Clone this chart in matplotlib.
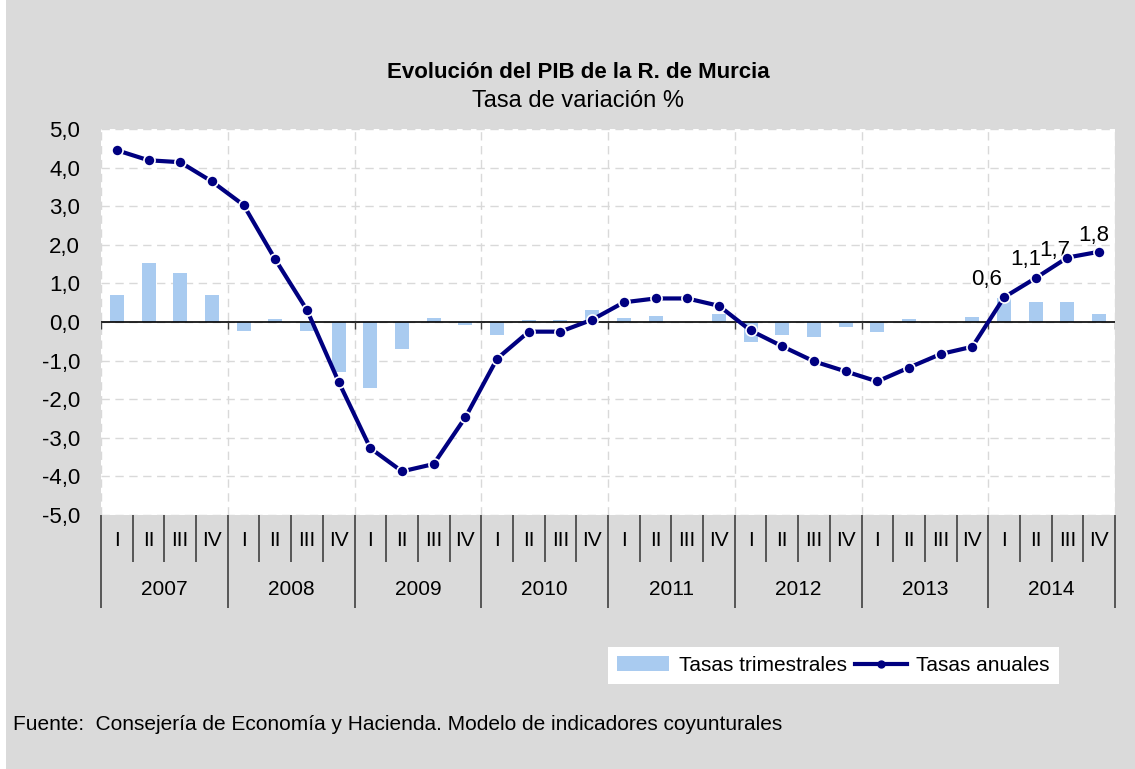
import numpy as np
import matplotlib.pyplot as plt
from matplotlib.patches import Rectangle, Patch
from matplotlib.lines import Line2D

plt.rcParams['font.family'] = ['Liberation Sans', 'DejaVu Sans']

years = ['2007', '2008', '2009', '2010', '2011', '2012', '2013', '2014']
quarters = ['I', 'II', 'III', 'IV']

tasas_trimestrales = [0.71, 1.52, 1.26, 0.71,
                      -0.24, 0.07, -0.24, -1.30,
                      -1.71, -0.70, 0.11, -0.09,
                      -0.34, 0.06, 0.06, 0.30,
                      0.10, 0.16, 0.0, 0.21,
                      -0.53, -0.33, -0.38, -0.12,
                      -0.27, 0.07, 0.0, 0.12,
                      0.63, 0.51, 0.51, 0.21]

tasas_anuales = [4.45, 4.19, 4.14, 3.64,
                 3.03, 1.62, 0.31, -1.55,
                 -3.27, -3.87, -3.68, -2.47,
                 -0.95, -0.25, -0.25, 0.06,
                 0.51, 0.61, 0.61, 0.42,
                 -0.22, -0.63, -1.02, -1.28,
                 -1.54, -1.18, -0.83, -0.64,
                 0.64, 1.14, 1.67, 1.82]

# only the last four annual rates carry a value label
labelled = [28, 29, 30, 31]
label_offsets = [(-18, 18), (-10, 18), (-13, 7), (-5, 16)]  # pixels

W, H = 1135, 769
fig = plt.figure(figsize=(W / 100, H / 100), dpi=100, facecolor='white')
fig.patches.append(Rectangle((6 / W, 0), 1, 1, transform=fig.transFigure,
                             facecolor='#dadada', edgecolor='none', zorder=-10))

ax = fig.add_axes([101 / W, 1 - 515 / H, (1115 - 101) / W, (515 - 129) / H])
ax.set_facecolor('white')

x = np.arange(len(tasas_anuales))
n_years = len(years)
bounds_year = np.arange(n_years + 1) * 4 - 0.5
bounds_q = np.arange(len(x) + 1) - 0.5

ax.bar(x, tasas_trimestrales, width=0.44, color='#a9cbf0', zorder=2)
ax.axhline(0, color='black', lw=1.2, zorder=3)
ax.vlines(bounds_year, -0.18, 0, color='#404040', lw=1, zorder=3)
ax.plot(x, tasas_anuales, color='#000080', lw=3, marker='o', ms=8,
        mec='white', mew=1.2, zorder=4)

for i, (dx, dy) in zip(labelled, label_offsets):
    txt = f'{tasas_anuales[i]:.1f}'.replace('.', ',')
    ax.annotate(txt, (x[i], tasas_anuales[i]), xytext=(dx / 1.389, dy / 1.389),
                textcoords='offset points', ha='center', va='center', fontsize=16)

ax.set_xlim(-0.5, len(x) - 0.5)
ax.set_ylim(-5, 5)
yt = np.arange(-5, 6)
ax.set_yticks(yt)
ax.set_yticklabels([f'{v:.1f}'.replace('.', ',') for v in yt])
ax.tick_params(axis='y', length=0, pad=15, labelsize=16)

ax.set_xticks(bounds_year)
ax.set_xticks(bounds_q, minor=True)
ax.tick_params(axis='x', which='major', length=67, width=1.2, color='#404040', labelbottom=False)
ax.tick_params(axis='x', which='minor', length=34, width=1.2, color='#404040', labelbottom=False)

ax.grid(axis='y', color='#d9d9d9', lw=1, dashes=(6, 4))
ax.grid(axis='x', which='major', color='#d9d9d9', lw=1, dashes=(6, 4))
ax.set_axisbelow(True)
for s in ax.spines.values():
    s.set_visible(False)

tr = ax.get_xaxis_transform()
for i in x:
    ax.text(i, -0.065, quarters[i % 4], transform=tr, ha='center', va='center', fontsize=15)
for k, yr in enumerate(years):
    ax.text(4 * k + 1.5, -0.194, yr, transform=tr, ha='center', va='center', fontsize=15)

fig.text(578 / W, 1 - 73 / H, 'Evolución del PIB de la R. de Murcia',
         ha='center', va='center', fontsize=16, fontweight='bold')
fig.text(578 / W, 1 - 101 / H, 'Tasa de variación %',
         ha='center', va='center', fontsize=17)

handles = [Patch(facecolor='#a9cbf0', edgecolor='none'),
           Line2D([], [], color='#000080', lw=3, marker='o', ms=5)]
fig.legend(handles, ['Tasas trimestrales', 'Tasas anuales'], loc='center',
           bbox_to_anchor=(833.5 / W, 1 - 665.5 / H), ncol=2, frameon=True,
           facecolor='white', edgecolor='none', framealpha=1, fancybox=False,
           fontsize=15, handlelength=2.5, handletextpad=0.45, columnspacing=0.4,
           borderpad=0.45, borderaxespad=0)

fig.text(13 / W, 1 - 725 / H,
         'Fuente:  Consejería de Economía y Hacienda. Modelo de indicadores coyunturales',
         ha='left', va='center', fontsize=15)

fig.savefig('out.png', dpi=100)
